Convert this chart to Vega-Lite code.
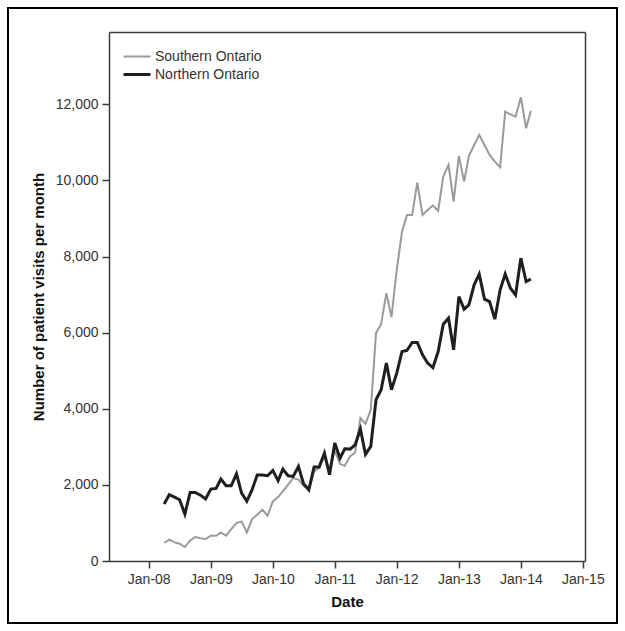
{
  "$schema": "https://vega.github.io/schema/vega-lite/v6.json",
  "autosize": "none",
  "padding": 8,
  "width": 609,
  "height": 615,
  "background": "#ffffff",
  "data": {
    "values": [
      {"date": "2008-04-01", "Southern Ontario": 473, "Northern Ontario": 1497},
      {"date": "2008-05-01", "Southern Ontario": 560, "Northern Ontario": 1741},
      {"date": "2008-06-01", "Southern Ontario": 490, "Northern Ontario": 1680},
      {"date": "2008-07-01", "Southern Ontario": 455, "Northern Ontario": 1610},
      {"date": "2008-08-01", "Southern Ontario": 367, "Northern Ontario": 1234},
      {"date": "2008-09-01", "Southern Ontario": 542, "Northern Ontario": 1802},
      {"date": "2008-10-01", "Southern Ontario": 630, "Northern Ontario": 1800},
      {"date": "2008-11-01", "Southern Ontario": 600, "Northern Ontario": 1730},
      {"date": "2008-12-01", "Southern Ontario": 577, "Northern Ontario": 1628},
      {"date": "2009-01-01", "Southern Ontario": 664, "Northern Ontario": 1890},
      {"date": "2009-02-01", "Southern Ontario": 664, "Northern Ontario": 1907},
      {"date": "2009-03-01", "Southern Ontario": 751, "Northern Ontario": 2153},
      {"date": "2009-04-01", "Southern Ontario": 664, "Northern Ontario": 1977},
      {"date": "2009-05-01", "Southern Ontario": 840, "Northern Ontario": 1977},
      {"date": "2009-06-01", "Southern Ontario": 998, "Northern Ontario": 2292},
      {"date": "2009-07-01", "Southern Ontario": 1040, "Northern Ontario": 1785},
      {"date": "2009-08-01", "Southern Ontario": 751, "Northern Ontario": 1575},
      {"date": "2009-09-01", "Southern Ontario": 1103, "Northern Ontario": 1872},
      {"date": "2009-10-01", "Southern Ontario": 1216, "Northern Ontario": 2258},
      {"date": "2009-11-01", "Southern Ontario": 1347, "Northern Ontario": 2258},
      {"date": "2009-12-01", "Southern Ontario": 1190, "Northern Ontario": 2240},
      {"date": "2010-01-01", "Southern Ontario": 1566, "Northern Ontario": 2380},
      {"date": "2010-02-01", "Southern Ontario": 1680, "Northern Ontario": 2109},
      {"date": "2010-03-01", "Southern Ontario": 1828, "Northern Ontario": 2415},
      {"date": "2010-04-01", "Southern Ontario": 2004, "Northern Ontario": 2240},
      {"date": "2010-05-01", "Southern Ontario": 2180, "Northern Ontario": 2222},
      {"date": "2010-06-01", "Southern Ontario": 2140, "Northern Ontario": 2485},
      {"date": "2010-07-01", "Southern Ontario": 1977, "Northern Ontario": 2030},
      {"date": "2010-08-01", "Southern Ontario": 1872, "Northern Ontario": 1872},
      {"date": "2010-09-01", "Southern Ontario": 2350, "Northern Ontario": 2468},
      {"date": "2010-10-01", "Southern Ontario": 2450, "Northern Ontario": 2468},
      {"date": "2010-11-01", "Southern Ontario": 2750, "Northern Ontario": 2836},
      {"date": "2010-12-01", "Southern Ontario": 2400, "Northern Ontario": 2266},
      {"date": "2011-01-01", "Southern Ontario": 2900, "Northern Ontario": 3099},
      {"date": "2011-02-01", "Southern Ontario": 2550, "Northern Ontario": 2700},
      {"date": "2011-03-01", "Southern Ontario": 2500, "Northern Ontario": 2950},
      {"date": "2011-04-01", "Southern Ontario": 2750, "Northern Ontario": 2940},
      {"date": "2011-05-01", "Southern Ontario": 2850, "Northern Ontario": 3054},
      {"date": "2011-06-01", "Southern Ontario": 3755, "Northern Ontario": 3466},
      {"date": "2011-07-01", "Southern Ontario": 3605, "Northern Ontario": 2800},
      {"date": "2011-08-01", "Southern Ontario": 3973, "Northern Ontario": 3010},
      {"date": "2011-09-01", "Southern Ontario": 5987, "Northern Ontario": 4236},
      {"date": "2011-10-01", "Southern Ontario": 6231, "Northern Ontario": 4499},
      {"date": "2011-11-01", "Southern Ontario": 7037, "Northern Ontario": 5200},
      {"date": "2011-12-01", "Southern Ontario": 6407, "Northern Ontario": 4499},
      {"date": "2012-01-01", "Southern Ontario": 7650, "Northern Ontario": 4937},
      {"date": "2012-02-01", "Southern Ontario": 8650, "Northern Ontario": 5504},
      {"date": "2012-03-01", "Southern Ontario": 9094, "Northern Ontario": 5531},
      {"date": "2012-04-01", "Southern Ontario": 9094, "Northern Ontario": 5741},
      {"date": "2012-05-01", "Southern Ontario": 9942, "Northern Ontario": 5741},
      {"date": "2012-06-01", "Southern Ontario": 9094, "Northern Ontario": 5418},
      {"date": "2012-07-01", "Southern Ontario": 9225, "Northern Ontario": 5200},
      {"date": "2012-08-01", "Southern Ontario": 9340, "Northern Ontario": 5080},
      {"date": "2012-09-01", "Southern Ontario": 9199, "Northern Ontario": 5504},
      {"date": "2012-10-01", "Southern Ontario": 10100, "Northern Ontario": 6220},
      {"date": "2012-11-01", "Southern Ontario": 10407, "Northern Ontario": 6381},
      {"date": "2012-12-01", "Southern Ontario": 9443, "Northern Ontario": 5549},
      {"date": "2013-01-01", "Southern Ontario": 10644, "Northern Ontario": 6949},
      {"date": "2013-02-01", "Southern Ontario": 9968, "Northern Ontario": 6618},
      {"date": "2013-03-01", "Southern Ontario": 10644, "Northern Ontario": 6731},
      {"date": "2013-04-01", "Southern Ontario": 10932, "Northern Ontario": 7256},
      {"date": "2013-05-01", "Southern Ontario": 11195, "Northern Ontario": 7537},
      {"date": "2013-06-01", "Southern Ontario": 10932, "Northern Ontario": 6880},
      {"date": "2013-07-01", "Southern Ontario": 10670, "Northern Ontario": 6818},
      {"date": "2013-08-01", "Southern Ontario": 10494, "Northern Ontario": 6355},
      {"date": "2013-09-01", "Southern Ontario": 10347, "Northern Ontario": 7125},
      {"date": "2013-10-01", "Southern Ontario": 11807, "Northern Ontario": 7537},
      {"date": "2013-11-01", "Southern Ontario": 11738, "Northern Ontario": 7169},
      {"date": "2013-12-01", "Southern Ontario": 11675, "Northern Ontario": 6993},
      {"date": "2014-01-01", "Southern Ontario": 12185, "Northern Ontario": 7957},
      {"date": "2014-02-01", "Southern Ontario": 11371, "Northern Ontario": 7343},
      {"date": "2014-03-01", "Southern Ontario": 11833, "Northern Ontario": 7405}
    ]
  },
  "transform": [
    {"fold": ["Southern Ontario", "Northern Ontario"], "as": ["region", "visits"]}
  ],
  "layer": [
    {
      "mark": {"type": "line", "strokeJoin": "miter", "interpolate": "linear"},
      "encoding": {
        "x": {
          "field": "date",
          "type": "temporal",
          "scale": {
            "type": "utc",
            "nice": false,
            "domain": [
              {"year": 2007, "month": 5, "date": 12, "utc": true},
              {"year": 2015, "month": 1, "date": 14, "utc": true}
            ],
            "range": [101, 577]
          },
          "axis": {
            "orient": "bottom",
            "offset": -62,
            "title": "Date",
            "labelExpr": "utcFormat(datum.value, '%b-%y')",
            "values": [
              {"year": 2008, "month": 1, "date": 1, "utc": true},
              {"year": 2009, "month": 1, "date": 1, "utc": true},
              {"year": 2010, "month": 1, "date": 1, "utc": true},
              {"year": 2011, "month": 1, "date": 1, "utc": true},
              {"year": 2012, "month": 1, "date": 1, "utc": true},
              {"year": 2013, "month": 1, "date": 1, "utc": true},
              {"year": 2014, "month": 1, "date": 1, "utc": true},
              {"year": 2015, "month": 1, "date": 1, "utc": true}
            ],
            "labelPadding": 4,
            "titlePadding": 8
          }
        },
        "y": {
          "field": "visits",
          "type": "quantitative",
          "scale": {"domain": [0, 13900], "nice": false, "zero": true, "range": [553, 24]},
          "axis": {
            "orient": "left",
            "offset": -101,
            "title": "Number of patient visits per month",
            "values": [0, 2000, 4000, 6000, 8000, 10000, 12000],
            "format": ",d",
            "labelPadding": 4,
            "titlePadding": 9
          }
        },
        "color": {
          "field": "region",
          "type": "nominal",
          "scale": {"domain": ["Southern Ontario", "Northern Ontario"], "range": ["#9a9a9a", "#1f1f1f"]},
          "legend": {
            "orient": "none",
            "legendX": 114,
            "legendY": 41,
            "title": null,
            "symbolType": "stroke",
            "symbolSize": 729,
            "clipHeight": 15,
            "labelFont": "Liberation Sans",
            "labelFontSize": 14,
            "labelColor": "#333333",
            "labelOffset": 3,
            "rowPadding": 3,
            "padding": 0
          }
        },
        "strokeWidth": {
          "field": "region",
          "type": "nominal",
          "scale": {"domain": ["Southern Ontario", "Northern Ontario"], "range": [2, 3]},
          "legend": {
            "orient": "none",
            "legendX": 114,
            "legendY": 41,
            "title": null,
            "symbolType": "stroke",
            "symbolSize": 729,
            "clipHeight": 15,
            "labelFont": "Liberation Sans",
            "labelFontSize": 14,
            "labelColor": "#333333",
            "labelOffset": 3,
            "rowPadding": 3,
            "padding": 0
          }
        }
      }
    },
    {
      "mark": {"type": "line", "opacity": 0},
      "encoding": {
        "x": {
          "field": "date",
          "type": "temporal",
          "axis": {"orient": "top", "offset": -24, "labels": false, "ticks": false, "title": null, "domain": true}
        },
        "y": {
          "field": "visits",
          "type": "quantitative",
          "axis": {"orient": "right", "offset": -32, "labels": false, "ticks": false, "title": null, "domain": true}
        },
        "detail": {"field": "region", "type": "nominal"}
      }
    }
  ],
  "resolve": {"axis": {"x": "independent", "y": "independent"}},
  "config": {
    "view": {"stroke": "#000000", "strokeWidth": 2},
    "axis": {
      "grid": false,
      "domainColor": "#3a3a3a",
      "domainWidth": 1.5,
      "tickColor": "#3a3a3a",
      "tickWidth": 1.5,
      "tickSize": 7,
      "labelFont": "Liberation Sans",
      "labelFontSize": 14,
      "labelColor": "#333333",
      "titleFont": "Liberation Sans",
      "titleFontSize": 15,
      "titleFontWeight": "bold",
      "titleColor": "#111111"
    }
  }
}
